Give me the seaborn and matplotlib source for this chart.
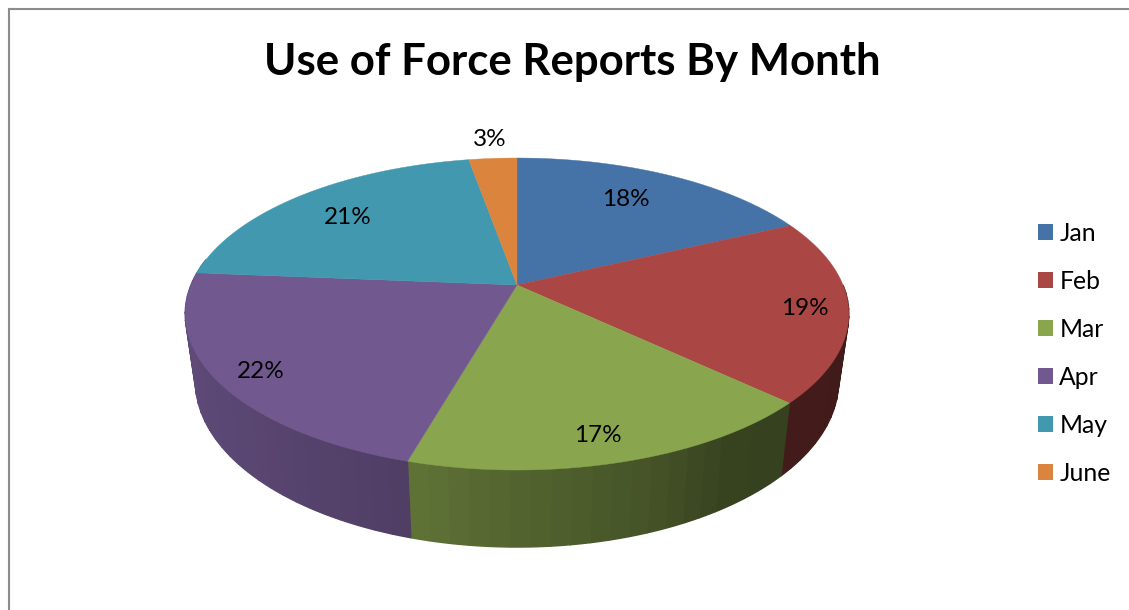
import numpy as np
import matplotlib
matplotlib.use("Agg")
import matplotlib.pyplot as plt
from matplotlib.patches import Patch
import seaborn as sns

# Values
months = ["Jan", "Feb", "Mar", "Apr", "May", "June"]
shares = [18.0, 19.0, 17.45, 21.85, 20.9, 2.8]
slice_colors = ["#4572A7", "#AA4643", "#89A54E", "#71588F", "#4198AF", "#DB843D"]
label_radius = [0.74, 0.87, 0.87, 0.88, 0.75, 1.18]
label_turn = [-2.0, 0.9, 1.5, -1.5, -1.5, 0.0]
title = "Use of Force Reports By Month"

W, H = 1129, 610
FRAME_X, FRAME_Y = 8.5, 9.0

# Perspective of the pie disc, in pixels
CX = 517
TILT = 0.186
TOP = dict(a=326.0, b=150.6, cy=285.0)
BASE = dict(a=316.0, b=160.4, cy=350.0)

# Shading of the side wall, darker to the right
SHADE_X = [-1.0, -0.34, -0.05, 0.35, 0.55, 1.0]
SHADE_F = [0.84, 0.72, 0.62, 0.50, 0.40, 0.38]


def project(theta, r, disc):
    """theta in degrees, clockwise from the top of the pie"""
    t = np.radians(theta)
    x = r * np.sin(t)
    y = r * np.cos(t)
    w = 1 + TILT * y
    return CX + disc["a"] * x / w, disc["cy"] - disc["b"] * y / w


sns.set_theme(style="white")
plt.rcParams["font.family"] = ["Lato", "DejaVu Sans"]

fig = plt.figure(figsize=(W / 100, H / 100), dpi=100, facecolor="white")
ax = fig.add_axes([FRAME_X / W, 0, 1 - FRAME_X / W, 1 - FRAME_Y / H])
ax.set_xlim(FRAME_X, W)
ax.set_ylim(H, FRAME_Y)
ax.set_xticks([])
ax.set_yticks([])
sns.despine(ax=ax, top=False, right=True, left=False, bottom=True)
for side in ["left", "top"]:
    ax.spines[side].set_color("#8c8c8c")
    ax.spines[side].set_linewidth(1.5)

edges = np.concatenate([[0], np.cumsum(shares)]) * 360 / sum(shares)
palette = sns.color_palette(slice_colors)

# Side wall first, only the part that faces the viewer
for i, color in enumerate(palette):
    start, stop = max(edges[i], 90), min(edges[i + 1], 280)
    if start >= stop:
        continue
    steps = np.linspace(start, stop, int((stop - start) / 3) + 2)
    for t0, t1 in zip(steps[:-1], steps[1:]):
        arc = np.linspace(t0, t1, 8)
        x0, y0 = project(arc, 1, TOP)
        x1, y1 = project(arc[::-1], 1, BASE)
        f = np.interp(np.sin(np.radians((t0 + t1) / 2)), SHADE_X, SHADE_F)
        shade = tuple(c * f for c in color)
        ax.fill(np.r_[x0, x1], np.r_[y0, y1], color=shade, lw=1.0, zorder=2)

# Top face of the pie
for i, color in enumerate(palette):
    arc = np.linspace(edges[i], edges[i + 1], 200)
    xs, ys = project(arc, 1, TOP)
    ax.fill(np.r_[CX, xs], np.r_[TOP["cy"], ys], color=color, lw=0.3, zorder=3)

# Percent labels at the middle of each slice
for i, share in enumerate(shares):
    mid = (edges[i] + edges[i + 1]) / 2 + label_turn[i]
    x, y = project(mid, label_radius[i], TOP)
    ax.text(x, y, f"{round(share)}%", ha="center", va="center",
            fontsize=17.5, color="black", zorder=4)

ax.text(572, 62, title, ha="center", va="center", fontsize=31.5,
        fontweight="bold", color="black")

handles = [Patch(facecolor=c, edgecolor="none", label=m) for c, m in zip(palette, months)]
ax.legend(handles=handles, loc="center left", bbox_to_anchor=(1038 / W, 1 - 353.5 / H),
          bbox_transform=fig.transFigure, frameon=False, fontsize=17.8,
          handlelength=0.61, handleheight=0.61, handletextpad=0.25,
          labelspacing=1.01, borderpad=0, borderaxespad=0, labelcolor="black")

fig.savefig("out.png", dpi=100)
